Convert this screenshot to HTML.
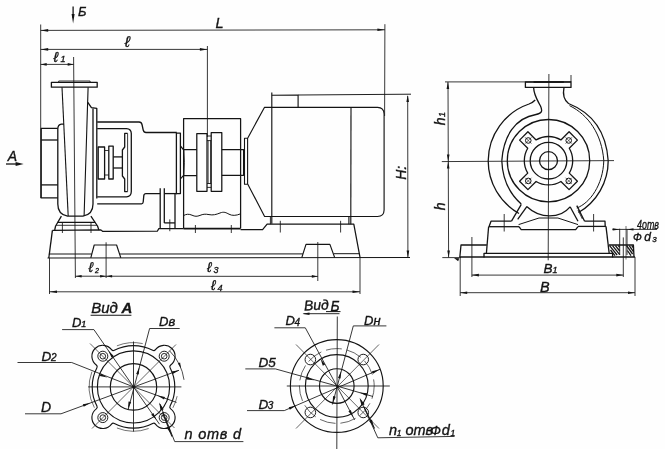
<!DOCTYPE html>
<html><head><meta charset="utf-8"><title>Pump drawing</title>
<style>
html,body{margin:0;padding:0;background:#fff;}
body{width:665px;height:449px;overflow:hidden;}
svg{display:block;will-change:transform;}
svg line,svg path,svg circle,svg rect{fill:none;stroke:#141414;stroke-linecap:butt;stroke-linejoin:round;}
svg .ah{fill:#141414;stroke:none;}
svg text{font-family:"Liberation Sans","DejaVu Sans",sans-serif;font-style:italic;fill:#141414;stroke:#141414;stroke-width:0.35;}
</style></head>
<body>
<svg width="665" height="449" viewBox="0 0 665 449">
<rect x="0" y="0" width="665" height="449" style="fill:#fefefe;stroke:none"/>
<line x1="40.7" y1="24.5" x2="40.7" y2="198" stroke-width="0.85"/>
<line x1="40.7" y1="30.4" x2="384.9" y2="29.8" stroke-width="0.85"/>
<polygon class="ah" points="40.70,30.40 48.20,29.10 48.20,31.70"/>
<polygon class="ah" points="384.90,29.80 377.40,31.10 377.40,28.50"/>
<line x1="384.9" y1="24.2" x2="384.6" y2="116" stroke-width="0.85"/>
<line x1="40.7" y1="49.4" x2="207.4" y2="49.4" stroke-width="0.85"/>
<polygon class="ah" points="40.70,49.40 48.20,48.10 48.20,50.70"/>
<polygon class="ah" points="207.40,49.40 199.90,50.70 199.90,48.10"/>
<line x1="207.4" y1="46" x2="207.4" y2="137" stroke-width="0.85"/>
<line x1="40.7" y1="64.4" x2="73.7" y2="64.4" stroke-width="0.85"/>
<polygon class="ah" points="40.70,64.40 46.70,63.10 46.70,65.70"/>
<polygon class="ah" points="73.70,64.40 67.70,65.70 67.70,63.10"/>
<line x1="73.6" y1="57" x2="75.4" y2="278" stroke-width="0.85"/>
<line x1="73.1" y1="6.6" x2="73.1" y2="18" stroke-width="1.3"/>
<polygon class="ah" points="73.10,23.60 71.60,14.10 74.60,14.10"/>
<text x="78" y="16.3" font-size="13" >Б</text>
<text x="215.5" y="27.8" font-size="14.5" >L</text>
<text x="124.8" y="46.6" font-size="15.5" >ℓ</text>
<text x="53.6" y="61.8" font-size="14.5" >ℓ</text>
<text x="60.4" y="62.2" font-size="9" >1</text>
<text x="7.8" y="161" font-size="14" >А</text>
<line x1="6" y1="164" x2="18" y2="164" stroke-width="1.3"/>
<polygon class="ah" points="23.60,164.00 15.60,166.00 15.60,162.00"/>
<rect x="51.4" y="82.3" width="45.8" height="4.9" stroke-width="1.3"/>
<path d="M58.7,82.3 L58.7,81 L90.1,81 L90.1,82.3" stroke-width="0.85" />
<line x1="62" y1="87.2" x2="68.2" y2="216" stroke-width="1.1"/>
<line x1="88.1" y1="87.2" x2="84.1" y2="216" stroke-width="1.1"/>
<path d="M87.8,102.4 L91.4,107.7 L96.8,108.4 L96.8,198.5" stroke-width="1.3" />
<path d="M93,108.4 L93,204 Q93,214.5 83,216.1 L67.5,216.1 Q57.8,214.5 57.8,204 L57.8,129 Q57.9,124.6 61.4,124.2 L64,124.2" stroke-width="1.3" />
<path d="M57.8,128.4 L41.2,128.4 L41.2,197.9 L57.8,197.9" stroke-width="1.3" />
<line x1="41.2" y1="140" x2="57.8" y2="140" stroke-width="1.3"/>
<line x1="41.2" y1="184.9" x2="57.8" y2="184.9" stroke-width="1.3"/>
<path d="M61.4,216.1 L55.6,226 L54.7,230" stroke-width="1.3" />
<path d="M90.9,216.1 L97.5,226 L98.9,230" stroke-width="1.3" />
<line x1="57.6" y1="222.3" x2="95.2" y2="222.3" stroke-width="1.3"/>
<line x1="56" y1="225.3" x2="97" y2="225.3" stroke-width="0.85"/>
<line x1="62.4" y1="222" x2="62.4" y2="233" stroke-width="0.85"/>
<line x1="91" y1="222" x2="91" y2="233" stroke-width="0.85"/>
<path d="M97.2,122 L139,122 Q141.5,122 142,124.5 L143.2,130 Q143.8,132.5 146,132.5 L176.8,132.5" stroke-width="1.3" />
<path d="M97.2,128.6 L126.5,128.6 Q131.2,128.8 131.3,133.5 L131.3,191.5 Q131.2,196.6 126.5,196.8 L97.2,196.8" stroke-width="1.3" />
<path d="M97.2,203.8 L141.5,203.8 Q143,203.8 143.2,202 L143.8,195.6 Q144,193.6 146,193.6 L160.2,193.6" stroke-width="1.3" />
<line x1="164.3" y1="193.6" x2="177" y2="193.6" stroke-width="1.3"/>
<rect x="176.4" y="133.2" width="4.0" height="60.4" stroke-width="1.3"/>
<path d="M127.6,133.4 L124.7,133.4 L124.7,147 L122.4,150 L122.4,176 L124.7,179 L124.7,191.6 L127.6,191.6" stroke-width="1.3" />
<line x1="127.6" y1="133.4" x2="127.6" y2="191.6" stroke-width="0.85"/>
<rect x="98.2" y="147" width="6.4" height="32" stroke-width="1.3"/>
<rect x="108.8" y="146.2" width="4.4" height="32.8" stroke-width="1.3"/>
<line x1="104.6" y1="150.5" x2="108.8" y2="150.5" stroke-width="0.85"/>
<line x1="104.6" y1="175" x2="108.8" y2="175" stroke-width="0.85"/>
<line x1="113.2" y1="156.9" x2="122.4" y2="156.9" stroke-width="1.3"/>
<line x1="113.2" y1="168" x2="122.4" y2="168" stroke-width="1.3"/>
<line x1="160.2" y1="188.3" x2="160.2" y2="228.4" stroke-width="1.3"/>
<line x1="164.3" y1="188.3" x2="164.3" y2="222.9" stroke-width="1.3"/>
<line x1="175" y1="193.6" x2="175" y2="228.4" stroke-width="1.3"/>
<line x1="164.3" y1="222.9" x2="175" y2="222.9" stroke-width="1.3"/>
<line x1="169.8" y1="219.4" x2="169.8" y2="231.2" stroke-width="0.85"/>
<path d="M183.6,228.6 L183.6,118.7 L240.6,118.7 L240.6,228.6" stroke-width="1.25" />
<path d="M183.6,215.6 C186,214 189,213.8 192,215.2 S197,216.6 200,215.4 S205,213.8 209,214.6 S216,214.6 220,213 S226,212.6 229,214.2 S236,215.8 240.6,213.8" stroke-width="1.0" />
<line x1="183.6" y1="228.6" x2="240.6" y2="228.6" stroke-width="1.8"/>
<line x1="195.4" y1="225" x2="195.4" y2="233" stroke-width="0.85"/>
<line x1="231.3" y1="225" x2="231.3" y2="233" stroke-width="0.85"/>
<path d="M180.4,146 L183.4,149.6 L196.8,149.6" stroke-width="1.2" />
<path d="M180.4,178.8 L183.4,175.6 L196.8,175.6" stroke-width="1.2" />
<path d="M183.8,149.6 Q184.9,162 183.8,175.6" stroke-width="0.9" />
<rect x="196.8" y="133.6" width="10.2" height="57.7" stroke-width="1.25"/>
<rect x="211.2" y="132.5" width="10.6" height="58.8" stroke-width="1.25"/>
<line x1="207" y1="136" x2="211.2" y2="136" stroke-width="0.9"/>
<line x1="207" y1="140.6" x2="211.2" y2="140.6" stroke-width="0.9"/>
<line x1="207" y1="183.5" x2="211.2" y2="183.5" stroke-width="0.9"/>
<line x1="207" y1="187.4" x2="211.2" y2="187.4" stroke-width="0.9"/>
<line x1="208.2" y1="140.6" x2="208.2" y2="183.5" stroke-width="0.7"/>
<line x1="210.5" y1="140.6" x2="210.5" y2="183.5" stroke-width="0.7"/>
<path d="M221.8,149.6 L243.6,149.6 L243.6,175.3 L221.8,175.3" stroke-width="1.25" />
<rect x="244.5" y="138.3" width="3.1" height="46.0" stroke-width="1.1"/>
<path d="M247.8,138 L264.4,107.4 L377.5,107.4 Q384,107.6 384.1,114 L384.1,210 Q384,216.4 377.5,216.5 L264.6,216.5 L247.8,184.2" stroke-width="1.15" />
<line x1="271.8" y1="92.4" x2="271.8" y2="223.8" stroke-width="1.15"/>
<line x1="351" y1="107.4" x2="350.8" y2="216.5" stroke-width="1.15"/>
<path d="M271.8,95.2 L298.1,95 L298.1,107.4" stroke-width="1.15" />
<line x1="298.1" y1="95" x2="411" y2="94.2" stroke-width="0.95"/>
<line x1="348.9" y1="216.5" x2="348.9" y2="224.2" stroke-width="1.15"/>
<line x1="350.8" y1="216.5" x2="350.8" y2="224.2" stroke-width="1.15"/>
<line x1="270.4" y1="216.5" x2="270.4" y2="224.2" stroke-width="0.9"/>
<path d="M52.4,230.3 L100.9,229.9 L102.5,231.3 L157.3,231.2 L158.8,228.6 L183.6,228.5" stroke-width="1.25" />
<path d="M240.6,229.6 L262.6,229.6 L267.1,224.2 L353.8,224.2 L360.1,257.8" stroke-width="1.25" />
<line x1="280.3" y1="220.8" x2="280.3" y2="232.5" stroke-width="0.85"/>
<line x1="340.6" y1="220.8" x2="340.6" y2="232.5" stroke-width="0.85"/>
<line x1="52.4" y1="230.3" x2="48.8" y2="258" stroke-width="1.3"/>
<line x1="49.3" y1="254" x2="91.8" y2="254" stroke-width="1.0"/>
<line x1="119.8" y1="254" x2="302.9" y2="253.9" stroke-width="1.0"/>
<path d="M90.8,257.8 L94.2,245 L116.6,245 L120.8,257.8" stroke-width="1.15" />
<path d="M301.8,257.6 L306,244.4 L329.9,244.4 L334.7,257.6" stroke-width="1.15" />
<line x1="333.7" y1="253.7" x2="359.5" y2="253.7" stroke-width="1.0"/>
<line x1="47.5" y1="258" x2="410" y2="257.5" stroke-width="1.0"/>
<line x1="106.1" y1="242.3" x2="106.1" y2="278" stroke-width="0.85"/>
<line x1="317.8" y1="242" x2="317.8" y2="281" stroke-width="0.85"/>
<line x1="49.5" y1="257.9" x2="49.5" y2="294" stroke-width="0.85"/>
<line x1="360" y1="257.4" x2="360" y2="294" stroke-width="0.85"/>
<line x1="75.4" y1="276.2" x2="317.8" y2="276.4" stroke-width="0.85"/>
<polygon class="ah" points="75.60,276.20 81.60,274.90 81.60,277.50"/>
<polygon class="ah" points="106.10,276.20 100.10,277.50 100.10,274.90"/>
<polygon class="ah" points="106.10,276.20 112.10,274.90 112.10,277.50"/>
<polygon class="ah" points="317.80,276.40 311.80,277.70 311.80,275.10"/>
<line x1="49.5" y1="291.8" x2="360" y2="291.8" stroke-width="0.85"/>
<polygon class="ah" points="49.50,291.80 57.00,290.50 57.00,293.10"/>
<polygon class="ah" points="360.00,291.80 352.50,293.10 352.50,290.50"/>
<text x="88.5" y="272" font-size="14" >ℓ</text>
<text x="95" y="272.5" font-size="7" >2</text>
<text x="207" y="272" font-size="14" >ℓ</text>
<text x="213.5" y="272.5" font-size="9" >3</text>
<text x="211" y="290" font-size="14" >ℓ</text>
<text x="217.5" y="290.5" font-size="9" >4</text>
<line x1="407.7" y1="96" x2="407.9" y2="257.4" stroke-width="0.85"/>
<polygon class="ah" points="407.70,95.00 409.00,102.00 406.40,102.00"/>
<polygon class="ah" points="407.90,257.40 406.60,250.40 409.20,250.40"/>
<text x="406" y="179.8" font-size="14" transform="rotate(-90 406 179.8)" >Н:</text>
<line x1="445" y1="81.9" x2="571" y2="81.9" stroke-width="0.85"/>
<line x1="448" y1="82" x2="448.6" y2="257.4" stroke-width="0.85"/>
<polygon class="ah" points="447.90,82.00 449.20,89.00 446.60,89.00"/>
<polygon class="ah" points="448.20,161.40 446.90,154.40 449.50,154.40"/>
<polygon class="ah" points="448.20,161.40 449.50,168.40 446.90,168.40"/>
<polygon class="ah" points="448.60,257.40 447.30,250.40 449.90,250.40"/>
<line x1="441.8" y1="161.6" x2="614" y2="160.6" stroke-width="0.85"/>
<line x1="442.3" y1="257.6" x2="461" y2="257.6" stroke-width="0.85"/>
<text x="444.6" y="125.2" font-size="14" transform="rotate(-90 444.6 125.2)" >h</text>
<text x="445.4" y="117" font-size="9" transform="rotate(-90 445.4 117)" >1</text>
<text x="444.8" y="210.2" font-size="14" transform="rotate(-90 444.8 210.2)" >h</text>
<line x1="548.9" y1="74" x2="548.2" y2="260.3" stroke-width="0.85"/>
<rect x="525.4" y="82" width="45.6" height="5.4" stroke-width="1.3"/>
<line x1="533.6" y1="82" x2="563.8" y2="82" stroke-width="1.6"/>
<line x1="571" y1="75" x2="571" y2="82" stroke-width="0.85"/>
<path d="M533.6,87.4 C534,96 538,101 540.5,106 C543,111.5 541.5,113.5 536,114.5 C515,118 503.5,136 501.8,160.7" stroke-width="1.3" />
<path d="M564,87.4 C562.5,95 564,100 568.5,103.5 C590,112 606,128 608.2,160.7" stroke-width="1.3" />
<path d="M569.5,105.6 C588.5,115 601.8,134 603.8,160.7" stroke-width="1.0" />
<path d="M535.2,100 Q533,102.5 529,104 A60.5,60.5 0 0 0 488.2,160.7 A60.5,60.5 0 0 0 519,213.5" stroke-width="1.3" />
<path d="M608.2,160.7 A60,60 0 0 1 578.5,212.5" stroke-width="1.3" />
<path d="M603.8,160.7 C603,185 590,203 576.8,208" stroke-width="1.0" />
<path d="M501.8,160.7 C502.5,180 510,194 521.2,204" stroke-width="1.3" />
<path d="M527,206.8 C540,219 560,219 570.1,206.8" stroke-width="1.3" />
<circle cx="548.5" cy="160.7" r="41.2" stroke-width="1.3" />
<circle cx="548.5" cy="160.7" r="9" stroke-width="1.3" />
<circle cx="548.5" cy="160.7" r="18.3" stroke-width="1.3" />
<path d="M569.27,173.12 L577.42,181.28 L569.08,189.62 L560.92,181.47 A24.2,24.2 0 0 1 536.08,181.47 L527.92,189.62 L519.58,181.28 L527.73,173.12 A24.2,24.2 0 0 1 527.73,148.28 L519.58,140.12 L527.92,131.78 L536.08,139.93 A24.2,24.2 0 0 1 560.92,139.93 L569.08,131.78 L577.42,140.12 L569.27,148.28 A24.2,24.2 0 0 1 569.27,173.12 Z" stroke-width="1.3" />
<circle cx="568.72" cy="180.92" r="2.8" stroke-width="1.0" />
<line x1="565.52" y1="184.12" x2="571.92" y2="177.72" stroke-width="0.6"/>
<line x1="565.52" y1="177.72" x2="571.92" y2="184.12" stroke-width="0.6"/>
<circle cx="528.28" cy="180.92" r="2.8" stroke-width="1.0" />
<line x1="525.08" y1="184.12" x2="531.48" y2="177.72" stroke-width="0.6"/>
<line x1="525.08" y1="177.72" x2="531.48" y2="184.12" stroke-width="0.6"/>
<circle cx="528.28" cy="140.48" r="2.8" stroke-width="1.0" />
<line x1="525.08" y1="143.68" x2="531.48" y2="137.28" stroke-width="0.6"/>
<line x1="525.08" y1="137.28" x2="531.48" y2="143.68" stroke-width="0.6"/>
<circle cx="568.72" cy="140.48" r="2.8" stroke-width="1.0" />
<line x1="565.52" y1="143.68" x2="571.92" y2="137.28" stroke-width="0.6"/>
<line x1="565.52" y1="137.28" x2="571.92" y2="143.68" stroke-width="0.6"/>
<line x1="521.3" y1="204.3" x2="511.5" y2="221.2" stroke-width="1.3"/>
<line x1="527" y1="206.4" x2="517.7" y2="219.4" stroke-width="1.3"/>
<line x1="570.1" y1="206.8" x2="578" y2="221.2" stroke-width="1.3"/>
<line x1="576.8" y1="205.6" x2="584.6" y2="221.2" stroke-width="1.3"/>
<line x1="578" y1="210" x2="582.4" y2="219" stroke-width="0.85"/>
<path d="M511.5,221.2 L491,221.2 L489,226.7" stroke-width="1.3" />
<path d="M584.6,221.2 L605,221.2 L605.2,226.2" stroke-width="1.3" />
<line x1="488.6" y1="226.7" x2="519" y2="226.7" stroke-width="1.3"/>
<line x1="578" y1="226.4" x2="606" y2="226.4" stroke-width="1.3"/>
<path d="M519,226.7 L521.2,229.7 L575.7,229.7 L578,226.7" stroke-width="1.3" />
<path d="M518.6,224.6 L539,218 L557.9,218 L578,224.6" stroke-width="1.0" />
<line x1="504.2" y1="214" x2="504.2" y2="231.5" stroke-width="0.85"/>
<line x1="593.6" y1="214" x2="593.6" y2="231.5" stroke-width="0.85"/>
<line x1="488.6" y1="226.7" x2="486.4" y2="253.3" stroke-width="1.3"/>
<line x1="606" y1="226.4" x2="609.2" y2="253.3" stroke-width="1.3"/>
<path d="M484,257.5 L484,253.3 L612.6,253.3 L612.6,257.5" stroke-width="1.3" />
<path d="M459.8,257.4 L461,245 L486.8,245" stroke-width="1.3" />
<line x1="459.8" y1="256.9" x2="635" y2="256.9" stroke-width="1.5"/>
<path d="M609,245 L633.4,245 L634,256.9" stroke-width="1.3" />
<line x1="471.9" y1="237" x2="471.9" y2="277" stroke-width="0.85"/>
<line x1="460.2" y1="257.6" x2="460.2" y2="296" stroke-width="0.85"/>
<line x1="635" y1="256.9" x2="635" y2="296" stroke-width="0.85"/>
<line x1="619.7" y1="228.7" x2="619.7" y2="255" stroke-width="0.85"/>
<line x1="626" y1="226" x2="626" y2="259.5" stroke-width="0.6"/>
<line x1="627" y1="229" x2="627" y2="255" stroke-width="0.85"/>
<line x1="623.3" y1="237.4" x2="623.3" y2="277" stroke-width="0.85"/>
<line x1="609.6" y1="245.6" x2="617.1" y2="254.975" stroke-width="1.3"/>
<line x1="612.5" y1="245.6" x2="619.7" y2="254.60000000000005" stroke-width="1.3"/>
<line x1="615.4" y1="245.6" x2="619.7" y2="250.97500000000008" stroke-width="1.3"/>
<line x1="618.3000000000001" y1="245.6" x2="619.7" y2="247.34999999999997" stroke-width="1.3"/>
<line x1="610.5" y1="250" x2="615" y2="255.6" stroke-width="1.3"/>
<line x1="626.6" y1="245.6" x2="632.6" y2="254.0" stroke-width="1.3"/>
<line x1="629.2" y1="245.6" x2="633.6" y2="251.75999999999996" stroke-width="1.3"/>
<line x1="631.8000000000001" y1="245.6" x2="633.6" y2="248.11999999999992" stroke-width="1.3"/>
<line x1="627.4" y1="250.5" x2="631" y2="255.6" stroke-width="1.3"/>
<line x1="612.4" y1="229.4" x2="657.1" y2="229.4" stroke-width="0.85"/>
<polygon class="ah" points="619.70,229.40 612.70,230.60 612.70,228.20"/>
<polygon class="ah" points="627.00,229.40 633.50,228.20 633.50,230.60"/>
<text x="637" y="228.5" font-size="13" textLength="22" lengthAdjust="spacingAndGlyphs">4отв</text>
<text x="633" y="241.4" font-size="11" >Ф</text>
<text x="644.2" y="241.4" font-size="12" >d</text>
<text x="652.2" y="242.2" font-size="8" >3</text>
<line x1="471.9" y1="275.1" x2="623.3" y2="275.1" stroke-width="0.85"/>
<polygon class="ah" points="471.90,275.10 478.90,273.80 478.90,276.40"/>
<polygon class="ah" points="623.30,275.10 616.30,276.40 616.30,273.80"/>
<line x1="460.2" y1="292.7" x2="635" y2="292.7" stroke-width="0.85"/>
<polygon class="ah" points="460.20,292.70 467.20,291.40 467.20,294.00"/>
<polygon class="ah" points="635.00,292.70 628.00,294.00 628.00,291.40"/>
<text x="543.6" y="273" font-size="13.5" >B</text>
<text x="552.4" y="273.4" font-size="9" >1</text>
<text x="540" y="291.8" font-size="14.5" >B</text>
<polygon class="ah" points="454.00,258.00 459.25,258.21 458.15,261.21"/>
<text x="91.2" y="312.6" font-size="15" >Вид</text>
<text x="121.6" y="312.8" font-size="15" font-weight="bold">А</text>
<line x1="90.6" y1="315.2" x2="131.4" y2="315.2" stroke-width="1.1"/>
<circle cx="133.5" cy="386.9" r="23.2" stroke-width="1.15" />
<circle cx="133.5" cy="386.9" r="36.1" stroke-width="1.15" />
<path d="M170.08,406.07 A2.2,2.2 0 0 0 170.71,408.86 A10.9,10.9 0 1 1 155.46,424.11 A2.2,2.2 0 0 0 152.67,423.48 A41.3,41.3 0 0 1 114.33,423.48 A2.2,2.2 0 0 0 111.54,424.11 A10.9,10.9 0 1 1 96.29,408.86 A2.2,2.2 0 0 0 96.92,406.07 A41.3,41.3 0 0 1 96.92,367.73 A2.2,2.2 0 0 0 96.29,364.94 A10.9,10.9 0 1 1 111.54,349.69 A2.2,2.2 0 0 0 114.33,350.32 A41.3,41.3 0 0 1 152.67,350.32 A2.2,2.2 0 0 0 155.46,349.69 A10.9,10.9 0 1 1 170.71,364.94 A2.2,2.2 0 0 0 170.08,367.73 A41.3,41.3 0 0 1 170.08,406.07" stroke-width="1.15" />
<circle cx="164.19" cy="417.59" r="5" stroke-width="0.95" />
<circle cx="164.19" cy="417.59" r="2.8" stroke-width="0.9" />
<circle cx="102.81" cy="417.59" r="5" stroke-width="0.95" />
<circle cx="102.81" cy="417.59" r="2.8" stroke-width="0.9" />
<circle cx="102.81" cy="356.21" r="5" stroke-width="0.95" />
<circle cx="102.81" cy="356.21" r="2.8" stroke-width="0.9" />
<circle cx="164.19" cy="356.21" r="5" stroke-width="0.95" />
<circle cx="164.19" cy="356.21" r="2.8" stroke-width="0.9" />
<path d="M148.65,428.53 A44.3,44.3 0 0 1 116.90,427.97" stroke-width="0.6" />
<path d="M94.39,407.70 A44.3,44.3 0 0 1 91.87,371.75" stroke-width="0.6" />
<path d="M116.90,345.83 A44.3,44.3 0 0 1 142.71,343.57" stroke-width="0.6" />
<path d="M177.13,396.17 A44.6,44.6 0 0 1 172.88,407.84" stroke-width="0.6" />
<path d="M169.56,350.84 A51,51 0 0 1 184.00,379.80" stroke-width="0.75" />
<polygon class="ah" points="181.11,368.62 177.84,363.45 180.08,362.59"/>
<line x1="88.1" y1="386.9" x2="181.4" y2="386.9" stroke-width="0.85"/>
<line x1="133.5" y1="341.5" x2="133.5" y2="431.5" stroke-width="0.85"/>
<line x1="90" y1="343.5" x2="174.5" y2="428" stroke-width="0.65"/>
<line x1="176" y1="344.5" x2="92" y2="428.5" stroke-width="0.65"/>
<text x="72" y="326.6" font-size="13" >D</text>
<text x="81.2" y="327" font-size="9" >1</text>
<path d="M62.1,329.6 L93.9,329.6 L133.5,386.9 L159.5,424.2" stroke-width="0.85" />
<polygon class="ah" points="108.30,350.60 113.71,355.97 111.50,357.52"/>
<polygon class="ah" points="156.60,420.00 151.19,414.63 153.40,413.08"/>
<text x="159" y="325.6" font-size="13" >Dв</text>
<path d="M179.7,328.5 L149.6,328.5 L128.2,409.5" stroke-width="0.85" />
<polygon class="ah" points="139.40,367.00 138.76,374.59 136.15,373.90"/>
<polygon class="ah" points="127.90,409.00 128.54,401.41 131.15,402.10"/>
<text x="41.6" y="360.8" font-size="13.5" >D</text>
<text x="51" y="361.2" font-size="10" >2</text>
<path d="M17.5,362.5 L71.7,362.5 L133.5,386.9 L176.5,402.4" stroke-width="0.85" />
<polygon class="ah" points="107.30,377.40 99.81,375.97 100.78,373.45"/>
<polygon class="ah" points="157.50,395.50 164.99,396.93 164.02,399.45"/>
<text x="41" y="412" font-size="14" >D</text>
<path d="M25,413.8 L61,413.8 L179,370.3" stroke-width="0.85" />
<polygon class="ah" points="90.30,403.00 83.71,406.83 82.79,404.30"/>
<polygon class="ah" points="179.00,370.30 172.41,374.13 171.49,371.60"/>
<text x="184.6" y="439.4" font-size="14.5" letter-spacing="0.75">n отв d</text>
<path d="M243.4,441.6 L174.7,441.6 L159.9,404" stroke-width="0.85" />
<polygon class="ah" points="159.20,402.50 163.71,409.32 160.55,410.57"/>
<line x1="162.5" y1="412.5" x2="172" y2="436.5" stroke-width="1.1"/>
<polygon class="ah" points="170.60,433.50 166.55,427.57 169.52,426.40"/>
<text x="304.2" y="310.6" font-size="14" transform="rotate(-3 304.2 310.6)" >Вид</text>
<text x="330.4" y="310.6" font-size="14" >Б</text>
<line x1="326" y1="311.6" x2="340.5" y2="311.6" stroke-width="1.0"/>
<line x1="303.5" y1="313.7" x2="339.5" y2="313.7" stroke-width="0.9"/>
<polygon class="ah" points="302.50,313.70 309.50,312.40 309.50,315.00"/>
<circle cx="336.8" cy="386" r="46.4" stroke-width="1.15" />
<circle cx="336.8" cy="386" r="31.4" stroke-width="1.15" />
<circle cx="336.8" cy="386" r="17.3" stroke-width="1.15" />
<circle cx="363.25" cy="412.45" r="5.3" stroke-width="0.95" />
<circle cx="310.35" cy="412.45" r="5.3" stroke-width="0.95" />
<circle cx="310.35" cy="359.55" r="5.3" stroke-width="0.95" />
<circle cx="363.25" cy="359.55" r="5.3" stroke-width="0.95" />
<circle cx="336.8" cy="386" r="37.4" stroke-width="0.65" stroke-dasharray="16 5" stroke-dashoffset="3"/>
<line x1="286.8" y1="386" x2="389.8" y2="386" stroke-width="0.85"/>
<line x1="337.3" y1="316.5" x2="336.8" y2="449" stroke-width="0.85"/>
<line x1="296" y1="344.5" x2="379" y2="428.5" stroke-width="0.65"/>
<line x1="379" y1="344.5" x2="296" y2="428.5" stroke-width="0.65"/>
<text x="285.5" y="325.4" font-size="13" >D</text>
<text x="294.4" y="325.6" font-size="10" >4</text>
<path d="M274.4,327.8 L305.3,327.8 L336.8,386 L354.6,419.8" stroke-width="0.85" />
<polygon class="ah" points="320.40,358.60 325.17,364.55 322.79,365.84"/>
<polygon class="ah" points="353.20,417.20 348.43,411.25 350.81,409.96"/>
<text x="364" y="324.8" font-size="13" >Dн</text>
<path d="M386.4,325.9 L353.3,325.9 L332.4,404.5" stroke-width="0.85" />
<polygon class="ah" points="341.20,371.00 340.56,378.59 337.95,377.90"/>
<polygon class="ah" points="332.50,403.60 333.14,396.01 335.75,396.70"/>
<text x="258.4" y="367.4" font-size="13.5" >D5</text>
<path d="M245.3,368.9 L275.4,368.9 L336.8,386 L373,396.5" stroke-width="0.85" />
<polygon class="ah" points="314.20,380.20 306.62,379.43 307.36,376.84"/>
<polygon class="ah" points="359.60,392.60 367.18,393.37 366.44,395.96"/>
<text x="258.6" y="408.6" font-size="13.5" >D</text>
<text x="267.8" y="409.4" font-size="10" >3</text>
<path d="M247,410.6 L284.3,410.6 L380,369.3" stroke-width="0.85" />
<polygon class="ah" points="296.20,405.50 289.85,409.71 288.78,407.23"/>
<polygon class="ah" points="379.40,369.50 373.05,373.71 371.98,371.23"/>
<text x="389" y="434.9" font-size="14.5" >n</text>
<text x="396.8" y="435.8" font-size="8.5" >1</text>
<text x="405.4" y="434.9" font-size="14.5" >отв</text>
<text x="430.6" y="434.9" font-size="13" >Ф</text>
<text x="441.8" y="434.9" font-size="14.5" >d</text>
<text x="450.6" y="435.8" font-size="8.5" >1</text>
<path d="M454.5,436.4 L377.8,437.8 L360.6,399.8" stroke-width="0.85" />
<polygon class="ah" points="359.60,397.80 364.63,404.25 361.58,405.74"/>
<line x1="364" y1="407" x2="374.5" y2="428.5" stroke-width="1.1"/>
<polygon class="ah" points="373.60,426.60 369.09,421.01 371.97,419.61"/>
</svg>
</body></html>
